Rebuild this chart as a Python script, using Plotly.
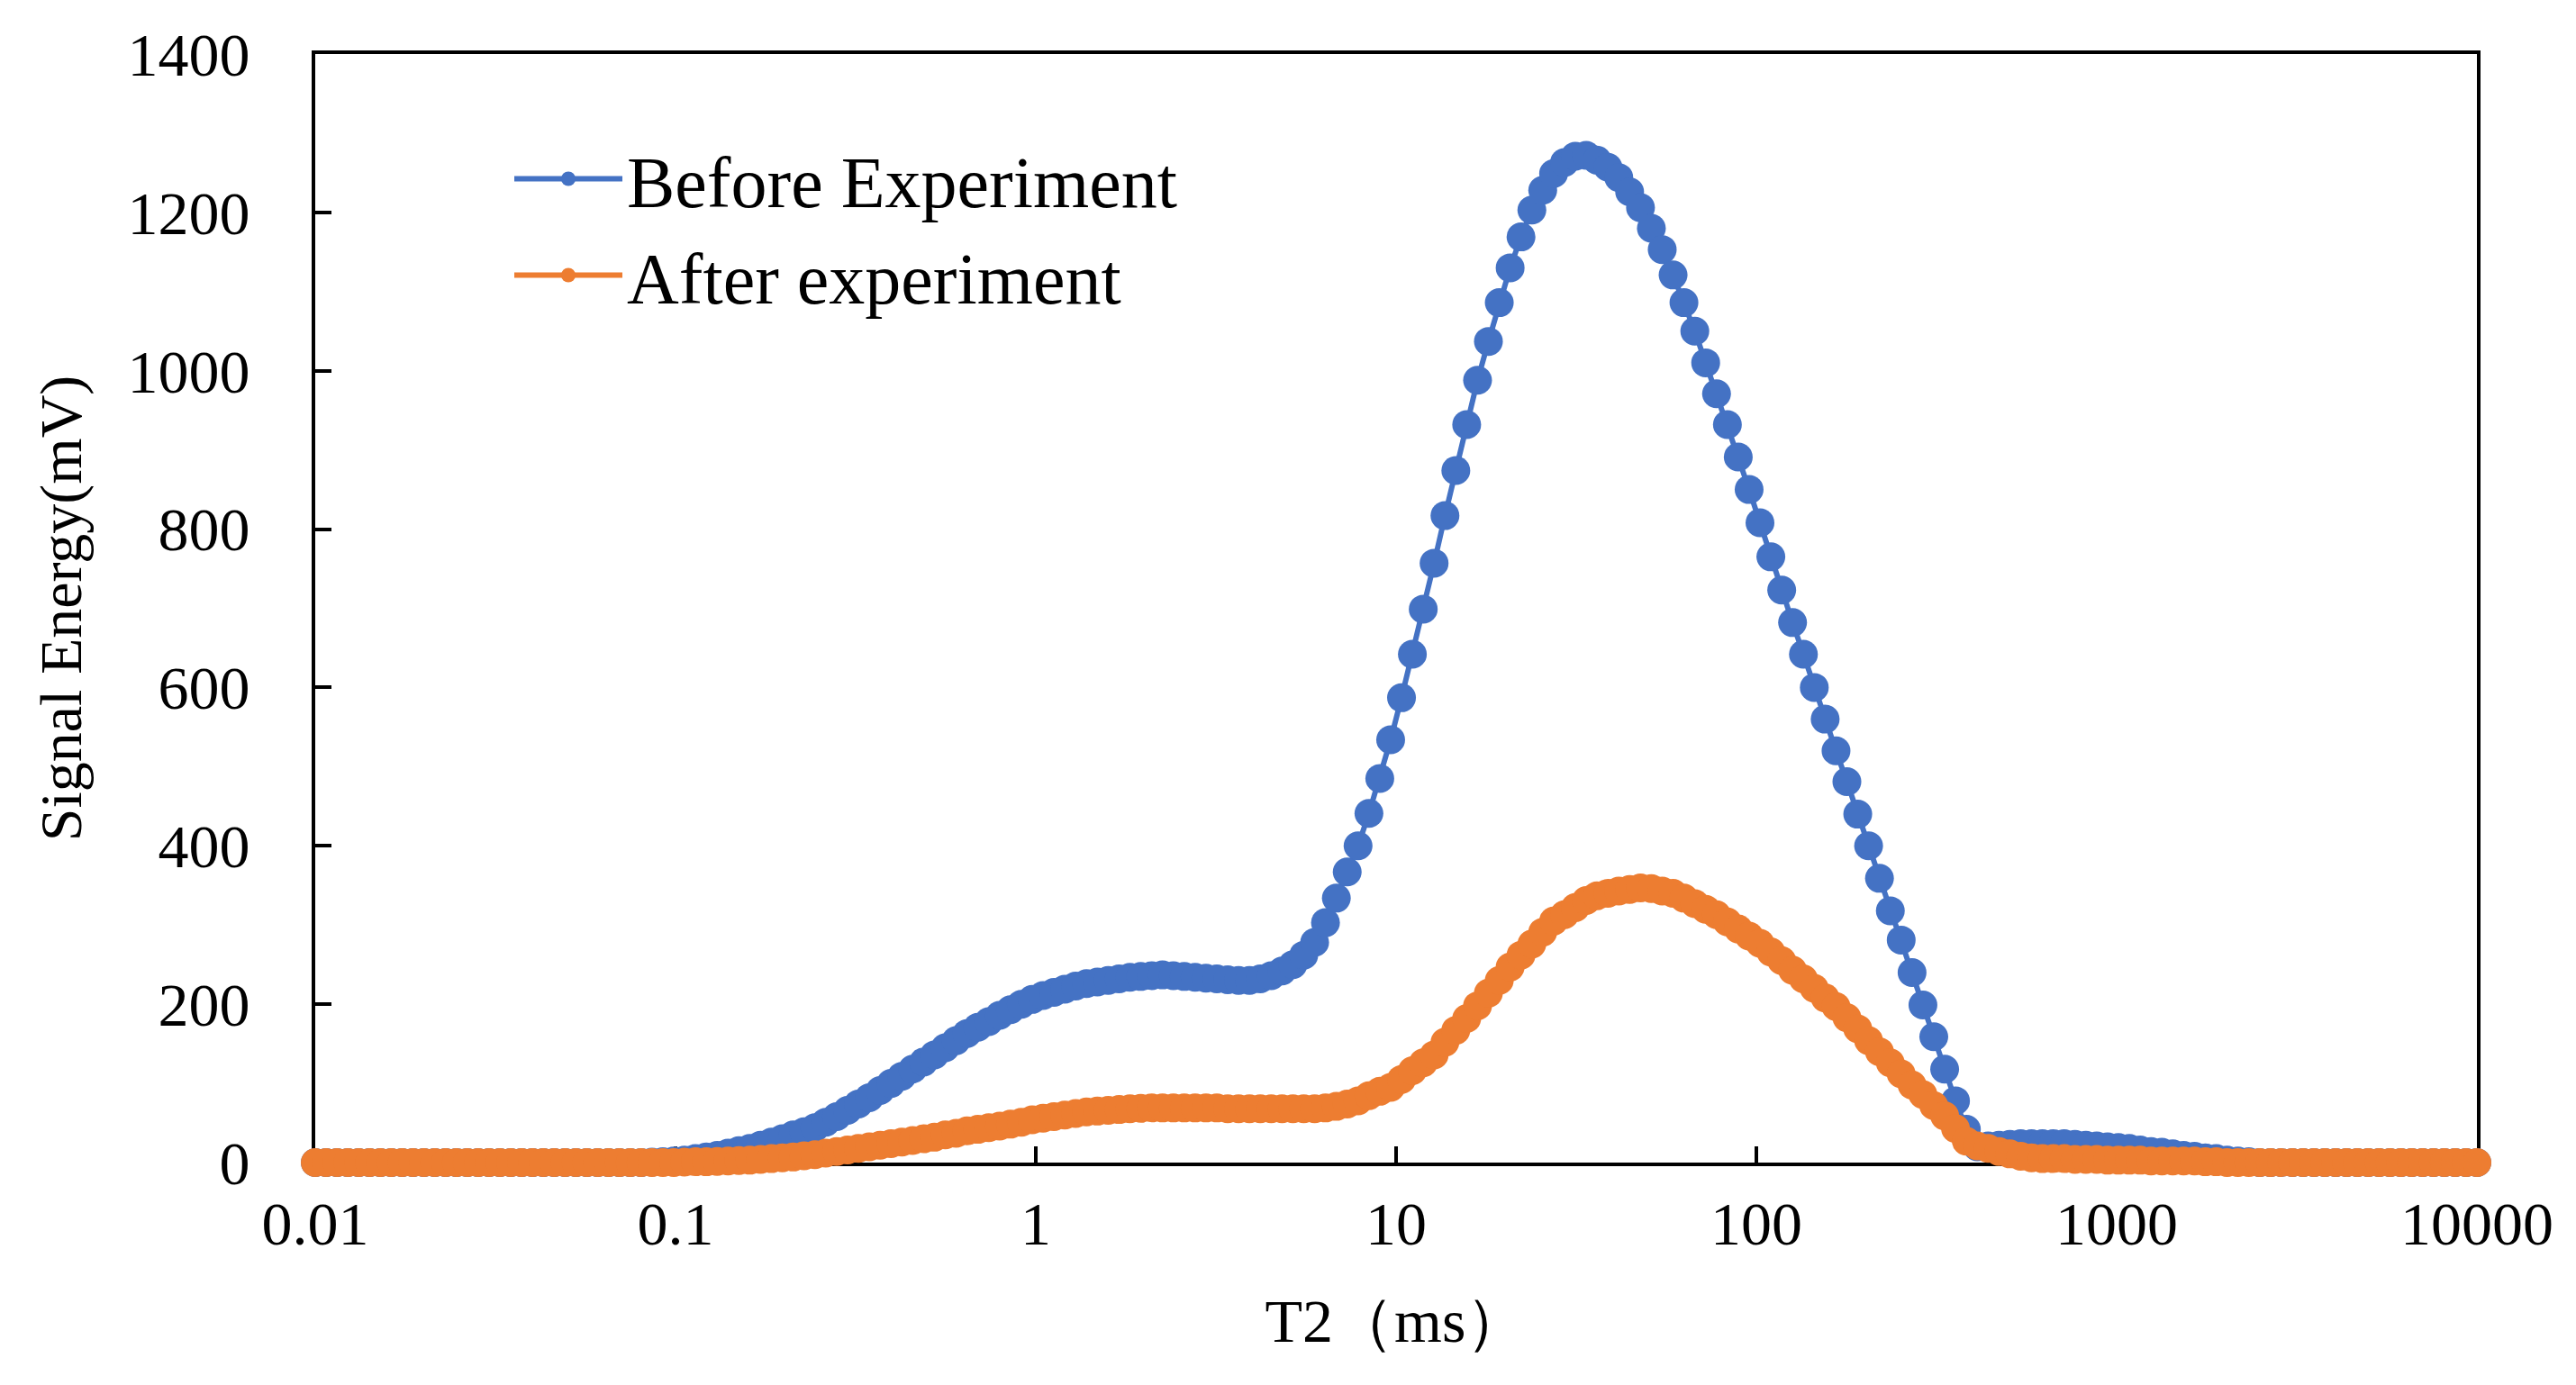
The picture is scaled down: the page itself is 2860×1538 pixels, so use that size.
import numpy as np
import plotly.graph_objects as go

# ── data (200 log-spaced T2 samples 0.01–10000 ms) ──
T2_MIN_LOG, T2_MAX_LOG = -2, 4

before = [
    0, 0, 0, 0, 0, 0, 0, 0, 0, 0,
    0, 0, 0, 0, 0, 0, 0, 0, 0, 0,
    0, 0, 0, 0, 0, 0, 0, 0, 0, 0,
    0, 0.5, 1, 2, 3, 5, 7, 9, 12, 15,
    18, 22, 26, 30, 35, 39, 44, 51, 58, 66,
    74, 82, 91, 100, 109, 118, 127, 136, 145, 154,
    163, 171, 178, 186, 193, 200, 206, 211, 215, 219,
    223, 226, 228, 230, 232, 234, 235, 236, 237, 236,
    235, 234, 233, 232, 231, 230, 230, 232, 236, 242,
    250, 262, 278, 303, 334, 367, 400, 441, 485, 534,
    587, 642, 699, 757, 817, 874, 932, 988, 1037, 1086,
    1130, 1169, 1203, 1228, 1249, 1263, 1271, 1272, 1266, 1257,
    1244, 1226, 1206, 1180, 1153, 1121, 1086, 1050, 1010, 971,
    932, 891, 850, 808, 765, 723, 682, 642, 600, 560,
    520, 481, 440, 400, 359, 318, 281, 240, 199, 159,
    118, 78, 42, 20, 21, 22, 23, 24, 24, 24,
    24, 24, 23, 22, 21, 20, 19, 18, 16, 14,
    13, 11, 9, 8, 6, 5, 3, 2, 1, 0,
    0, 0, 0, 0, 0, 0, 0, 0, 0, 0,
    0, 0, 0, 0, 0, 0, 0, 0, 0, 0,
]

after = [
    0, 0, 0, 0, 0, 0, 0, 0, 0, 0,
    0, 0, 0, 0, 0, 0, 0, 0, 0, 0,
    0, 0, 0, 0, 0, 0, 0, 0, 0, 0,
    0, 0, 0, 0, 0.5, 1, 1, 1.5, 2, 2.5,
    3, 4, 5, 6, 7, 8.5, 10, 12, 14, 16,
    18, 20, 22, 24, 26, 28, 30, 32, 35, 37,
    40, 42, 44, 46, 48.5, 51, 54, 56, 58, 60,
    62, 64, 65, 66, 67, 68, 68.5, 69, 69, 69,
    69, 69, 69, 69, 68, 68, 68, 68, 68, 68,
    68, 68, 68, 69, 71, 74, 78, 84.5, 90, 95,
    105, 116, 126, 136, 152, 167, 182, 198, 214, 230,
    247, 262, 276, 291, 305, 313, 322, 331, 337, 340,
    343, 345, 347, 346, 343, 340, 334, 327, 320, 313,
    304, 295, 286, 277, 266, 255, 243, 232, 220, 208,
    197, 183, 169, 154, 140, 126, 112, 98, 86, 72,
    59, 43, 27, 21, 18, 14, 11, 8, 6, 5,
    5, 5, 4, 4, 4, 3, 3, 3, 3, 2,
    2, 2, 2, 2, 1, 1, 0, 0, 0, 0,
    0, 0, 0, 0, 0, 0, 0, 0, 0, 0,
    0, 0, 0, 0, 0, 0, 0, 0, 0, 0,
]

series_names = ["Before Experiment", "After experiment"]
x_tick_vals = [0.01, 0.1, 1, 10, 100, 1000, 10000]
x_tick_text = ["0.01", "0.1", "1", "10", "100", "1000", "10000"]
y_tick_vals = [0, 200, 400, 600, 800, 1000, 1200, 1400]

t2 = np.logspace(T2_MIN_LOG, T2_MAX_LOG, len(before))

BLUE = "#4472C4"
ORANGE = "#ED7D31"
FONT = "Liberation Serif, Times New Roman, serif"

fig = go.Figure()
for name, ys, color in [(series_names[0], before, BLUE), (series_names[1], after, ORANGE)]:
    fig.add_trace(go.Scatter(
        x=t2, y=ys, name=name, mode="lines+markers",
        line=dict(color=color, width=6),
        marker=dict(color=color, size=32),
        cliponaxis=False,
    ))

axis_common = dict(
    showline=True, linecolor="black", linewidth=4, mirror=True,
    showgrid=False, zeroline=False,
    ticks="inside", ticklen=18, tickwidth=4, tickcolor="black",
    tickfont=dict(family=FONT, size=68, color="black"),
    layer="below traces",
)

fig.update_layout(
    width=2860, height=1538,
    paper_bgcolor="white", plot_bgcolor="white",
    margin=dict(l=342, r=118, t=52, b=255, autoexpand=False),
    font=dict(family=FONT, color="black"),
    xaxis=dict(
        type="log", range=[T2_MIN_LOG, T2_MAX_LOG],
        tickvals=x_tick_vals, ticktext=x_tick_text,
        ticklabelstandoff=5,
        title=dict(text="T2（ms）", font=dict(family=FONT, size=68), standoff=48),
        **axis_common,
    ),
    yaxis=dict(
        range=[0, 1400], tickvals=y_tick_vals,
        ticklabelstandoff=55,
        title=dict(text="Signal Energy(mV)", font=dict(family=FONT, size=66), standoff=30),
        **axis_common,
    ),
    legend=dict(
        x=0.09, y=0.935, xanchor="left", yanchor="top",
        font=dict(family=FONT, size=80, color="black"),
        bgcolor="rgba(0,0,0,0)", itemwidth=120,
    ),
)

fig.write_html("out.html")
